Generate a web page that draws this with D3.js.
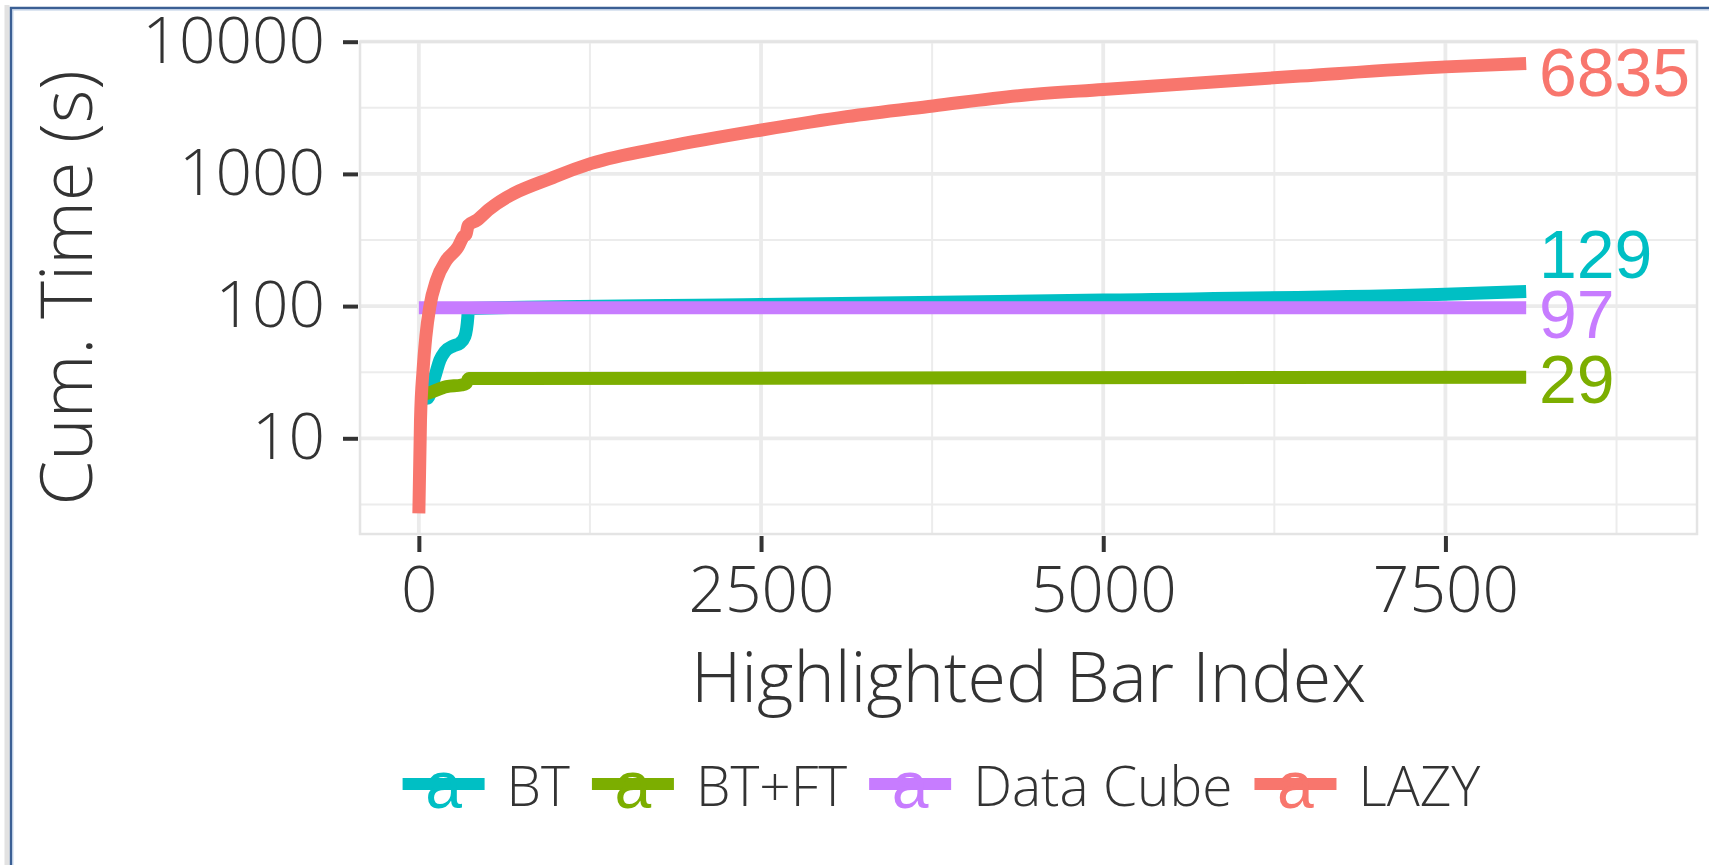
<!DOCTYPE html>
<html>
<head>
<meta charset="utf-8">
<script src="https://cdn.jsdelivr.net/npm/d3@7"></script>
<style>
    body { margin: 0; background: #fff; }
    svg { display: block; }
    .lbl { font-family: "Open Sans", "Lato", sans-serif; font-weight: 300; fill: #333; }
</style>
</head>
<body>
<div id="chart"></div>
<script>
// series, in ggplot factor order (drawn in this order, LAZY on top)
const seriesNames = ["BT", "BT+FT", "Data Cube", "LAZY"];
const seriesColors = ["#00BFC4", "#7CAE00", "#C77CFF", "#F8766D"];

const btX = [0, 61, 117, 154, 190, 251, 300, 336, 358, 362, 2500, 5000, 7500, 8090];
const btY = [21, 20.1, 29.3, 39.1, 45.2, 49.9, 52.4, 58.8, 83, 96, 103, 111, 123, 129];

const btftX = [0, 68, 202, 312, 345, 365, 8090];
const btftY = [21.5, 22, 24.6, 25.3, 26, 28.3, 29];

const cubeX = [0, 8090];
const cubeY = [97, 97];

const lazyX = [0, 12, 31, 51, 80, 129, 202, 287, 324, 345, 360, 422, 507, 998, 1260, 1816, 2504, 3125, 3757, 4434, 5000, 6440, 7500, 8090];
const lazyY = [2.7, 13.8, 32.9, 58.8, 99, 157, 223, 281, 335, 350, 408, 445, 533, 955, 1200, 1607, 2148, 2710, 3266, 3954, 4350, 5500, 6450, 6835];

// direct labels at the end of each line (value shown, where it sits)
const endLabels = ["129", "29", "97", "6835"];
const endLabelY = [248, 28.1, 87.2, 5900];
const endLabelX = 8183;

// axes
const xTicks = [0, 2500, 5000, 7500];
const xMinor = [1250, 3750, 6250, 8750];
const yTicks = [10, 100, 1000, 10000];
const yMinor = [Math.pow(10, 0.5), Math.pow(10, 1.5), Math.pow(10, 2.5), Math.pow(10, 3.5)];
const xDomain = [-430, 9338];
const yDomain = [Math.pow(10, 0.276), Math.pow(10, 4.0)];

const series = [
    { xs: btX, ys: btY },
    { xs: btftX, ys: btftY },
    { xs: cubeX, ys: cubeY },
    { xs: lazyX, ys: lazyY }
].map((s, i) => ({
    name: seriesNames[i],
    colour: seriesColors[i],
    label: endLabels[i],
    labelY: endLabelY[i],
    points: s.xs.map((x, j) => ({ x: x, y: s.ys[j] }))
}));

const W = 1709, H = 865;
const panel = { left: 360, right: 1697, top: 41.7, bottom: 534 };

const svg = d3.select("#chart")
    .append("svg")
    .attr("width", W)
    .attr("height", H);

svg.append("rect").attr("width", W).attr("height", H).attr("fill", "#fff");

// frame round the figure (slide border)
svg.append("path")
    .attr("d", `M7,${H} V5`)
    .attr("stroke", "#e2e2e2").attr("stroke-width", 5).attr("fill", "none");
svg.append("path")
    .attr("d", `M11,${H} V8 H${W}`)
    .attr("stroke", "#3b5f94").attr("stroke-width", 2.5).attr("fill", "none");
svg.append("path")
    .attr("d", `M12.8,${H} V9.8 H${W}`)
    .attr("stroke", "#b9cbe3").attr("stroke-width", 1.2).attr("fill", "none");

// scales
const x = d3.scaleLinear().domain(xDomain).range([panel.left, panel.right]);
const y = d3.scaleLog().domain(yDomain).range([panel.bottom, panel.top]);

// grid
const grid = svg.append("g");
grid.selectAll(".ymin").data(yMinor).join("line")
    .attr("x1", panel.left).attr("x2", panel.right)
    .attr("y1", d => y(d)).attr("y2", d => y(d))
    .attr("stroke", "#ececec").attr("stroke-width", 2);
grid.selectAll(".xmin").data(xMinor).join("line")
    .attr("y1", panel.top).attr("y2", panel.bottom)
    .attr("x1", d => x(d)).attr("x2", d => x(d))
    .attr("stroke", "#ececec").attr("stroke-width", 2);
grid.selectAll(".ymaj").data(yTicks).join("line")
    .attr("x1", panel.left).attr("x2", panel.right)
    .attr("y1", d => y(d)).attr("y2", d => y(d))
    .attr("stroke", "#ebebeb").attr("stroke-width", 3.8);
grid.selectAll(".xmaj").data(xTicks).join("line")
    .attr("y1", panel.top).attr("y2", panel.bottom)
    .attr("x1", d => x(d)).attr("x2", d => x(d))
    .attr("stroke", "#ebebeb").attr("stroke-width", 3.8);
svg.append("rect")
    .attr("x", panel.left).attr("y", panel.top)
    .attr("width", panel.right - panel.left).attr("height", panel.bottom - panel.top)
    .attr("fill", "none").attr("stroke", "#e4e4e4").attr("stroke-width", 2.5);

// lines
svg.append("clipPath").attr("id", "clip")
    .append("rect")
    .attr("x", panel.left).attr("y", panel.top)
    .attr("width", panel.right - panel.left).attr("height", panel.bottom - panel.top);

const line = d3.line()
    .curve(d3.curveMonotoneX)
    .x(d => x(d.x))
    .y(d => y(d.y));

svg.append("g").attr("clip-path", "url(#clip)")
    .selectAll("path")
    .data(series)
    .join("path")
    .attr("d", d => line(d.points))
    .attr("fill", "none")
    .attr("stroke", d => d.colour)
    .attr("stroke-width", 13)
    .attr("stroke-linejoin", "round")
    .attr("stroke-linecap", "butt");

// end labels
svg.append("g")
    .selectAll("text")
    .data(series)
    .join("text")
    .attr("x", x(endLabelX))
    .attr("y", d => y(d.labelY) + 24.3)
    .attr("fill", d => d.colour)
    .style("font-family", "'Liberation Sans', Arial, sans-serif")
    .style("font-size", "68px")
    .text(d => d.label);

// axes
const yAxis = svg.append("g")
    .attr("transform", `translate(${panel.left - 2},0)`)
    .call(d3.axisLeft(y).tickValues(yTicks).tickFormat(d3.format("d")).tickSize(15).tickPadding(18));
const xAxis = svg.append("g")
    .attr("transform", `translate(0,${panel.bottom + 2})`)
    .call(d3.axisBottom(x).tickValues(xTicks).tickFormat(d3.format("d")).tickSize(16).tickPadding(15));

[yAxis, xAxis].forEach(ax => {
    ax.select(".domain").remove();
    ax.selectAll(".tick line").attr("stroke", "#333").attr("stroke-width", 4);
    ax.selectAll(".tick text")
        .attr("class", "lbl")
        .attr("fill", null)
        .style("font-size", "64px");
});

// axis titles
svg.append("text")
    .attr("class", "lbl")
    .attr("transform", `translate(92,${(panel.top + panel.bottom) / 2}) rotate(-90)`)
    .attr("text-anchor", "middle")
    .style("font-size", "72px")
    .text("Cum. Time (s)");

svg.append("text")
    .attr("class", "lbl")
    .attr("x", (panel.left + panel.right) / 2)
    .attr("y", 702)
    .attr("text-anchor", "middle")
    .style("font-size", "70px")
    .text("Highlighted Bar Index");

// legend
const legend = svg.append("g");
const keyW = 82, keyGap = 22, itemGap = 22, legendY = 784;
let cursor = 0;
series.forEach(s => {
    const item = legend.append("g").attr("transform", `translate(${cursor},0)`);
    item.append("line")
        .attr("x1", 0).attr("x2", keyW)
        .attr("y1", legendY).attr("y2", legendY)
        .attr("stroke", s.colour).attr("stroke-width", 12);
    item.append("text")
        .attr("x", keyW / 2).attr("y", 808)
        .attr("text-anchor", "middle")
        .attr("fill", s.colour)
        .style("font-family", "'Liberation Sans', Arial, sans-serif")
        .style("font-size", "66px")
        .text("a");
    const t = item.append("text")
        .attr("class", "lbl")
        .attr("x", keyW + keyGap).attr("y", 805.7)
        .style("font-size", "55px")
        .text(s.name);
    cursor += keyW + keyGap + t.node().getComputedTextLength() + itemGap;
});
const legendW = cursor - itemGap;
legend.attr("transform", `translate(${941.5 - legendW / 2},0)`);
</script>
</body>
</html>
